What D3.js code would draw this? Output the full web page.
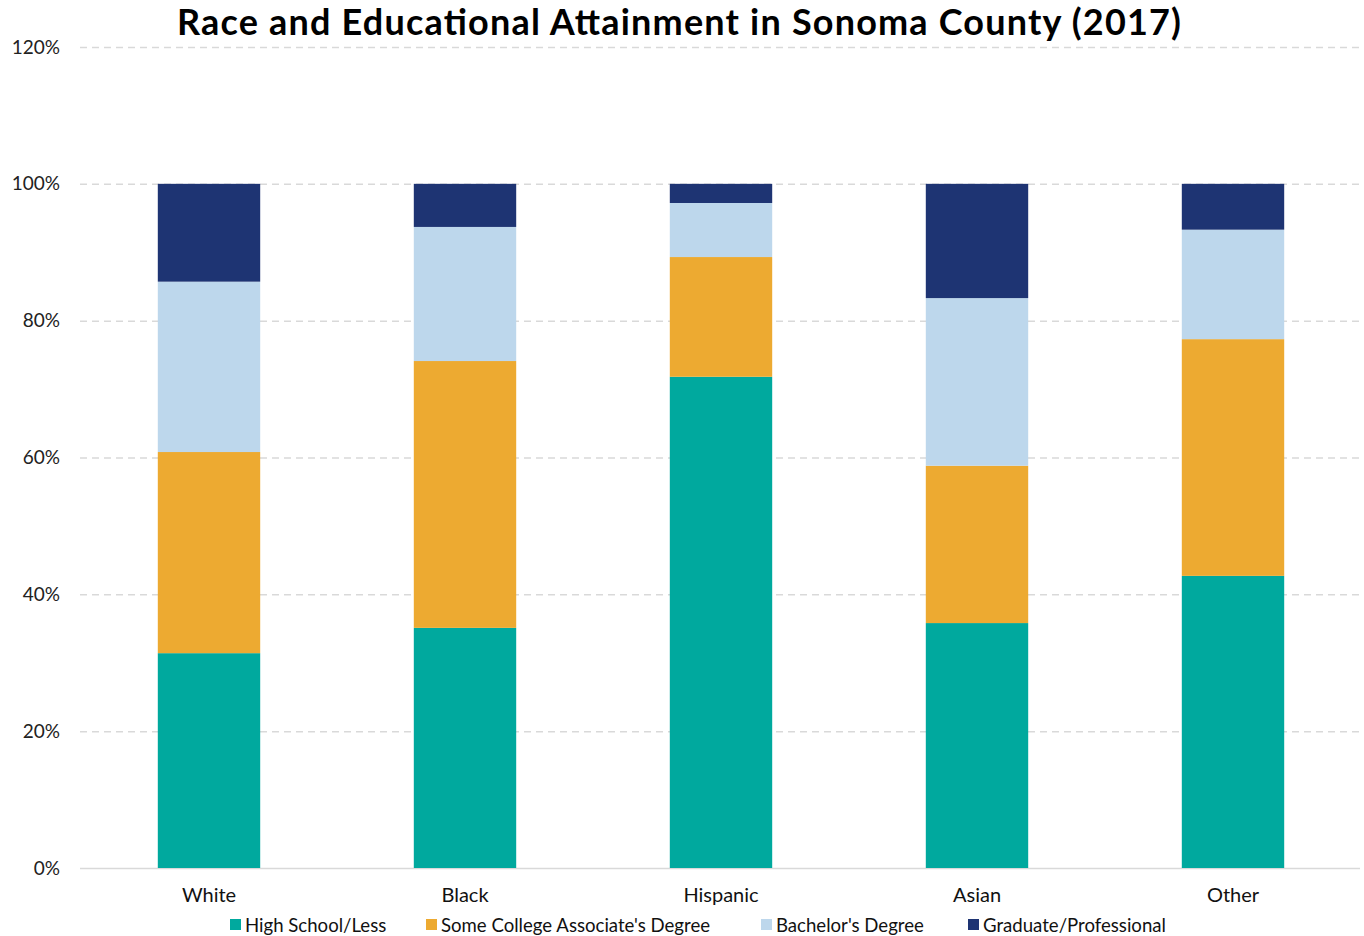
<!DOCTYPE html>
<html>
<head>
<meta charset="utf-8">
<script src="https://cdn.jsdelivr.net/npm/d3@7"></script>
<style>
  html, body { margin: 0; padding: 0; background: #fff; }
  svg { display: block; font-family: Lato, "Open Sans", sans-serif; }
</style>
</head>
<body>
<svg id="chart" width="1364" height="936"></svg>
<script>
// Share of adults by educational attainment, per race group
const races = ["White", "Black", "Hispanic", "Asian", "Other"];
const levels = ["High School/Less", "Some College Associate's Degree", "Bachelor's Degree", "Graduate/Professional"];
const highSchool   = [31.4, 35.1, 71.8, 35.8, 42.7];
const someCollege  = [29.4, 39.0, 17.5, 23.0, 34.6];
const bachelors    = [24.9, 19.6,  7.9, 24.5, 16.0];
const graduate     = [14.3,  6.3,  2.8, 16.7,  6.7];
const yTicks = [0, 20, 40, 60, 80, 100, 120];
const colors = ["#00A99E", "#EDAA31", "#BDD7EC", "#1E3473"];

const rows = races.map((r, i) => ({
  race: r,
  [levels[0]]: highSchool[i],
  [levels[1]]: someCollege[i],
  [levels[2]]: bachelors[i],
  [levels[3]]: graduate[i]
}));

const svg = d3.select("#chart");
const margin = { left: 80, right: 4, top: 47, bottom: 68 };
const W = 1364, H = 936;

const x = d3.scaleBand().domain(races).range([margin.left + 1, W - margin.right + 1]).paddingInner(0.6).paddingOuter(0.3);
const y = d3.scaleLinear().domain([0, 120]).range([H - margin.bottom, margin.top]);
const color = d3.scaleOrdinal().domain(levels).range(colors);

// Title
svg.append("text")
  .attr("x", 679).attr("y", 35)
  .attr("text-anchor", "middle")
  .attr("font-size", 36).attr("font-weight", 700)
  .attr("textLength", 1004).attr("lengthAdjust", "spacing")
  .attr("fill", "#000")
  .text("Race and Educational Attainment in Sonoma County (2017)");

// Gridlines and y labels
const yAxis = svg.append("g")
  .attr("transform", `translate(${margin.left},0)`)
  .call(d3.axisLeft(y).tickValues(yTicks).tickFormat(d => d + "%")
    .tickSize(-(W - margin.left - margin.right)).tickPadding(20));
yAxis.select(".domain").remove();
yAxis.selectAll(".tick line")
  .attr("stroke", "#d9d9d9").attr("stroke-width", 1.5)
  .attr("stroke-dasharray", d => d === 0 ? null : "7,5");
yAxis.selectAll(".tick text")
  .attr("font-size", 19).attr("fill", "#222")
  .attr("font-family", "Lato, sans-serif");

// Stacked bars
const stack = d3.stack().keys(levels)(rows);
svg.append("g").selectAll("g")
  .data(stack).join("g")
  .attr("fill", d => color(d.key))
  .selectAll("rect")
  .data(d => d).join("rect")
  .attr("x", d => x(d.data.race))
  .attr("width", x.bandwidth())
  .attr("y", d => y(d[1]))
  .attr("height", d => y(d[0]) - y(d[1]));

// Category labels
const xAxis = svg.append("g")
  .attr("transform", `translate(0,${y(0)})`)
  .call(d3.axisBottom(x).tickSize(0).tickPadding(20));
xAxis.select(".domain").remove();
xAxis.selectAll(".tick text")
  .attr("font-size", 20).attr("fill", "#111")
  .attr("font-family", "Lato, sans-serif");

// Legend
const legendX = [230, 426, 761, 968];
const legend = svg.append("g").attr("transform", "translate(0,925)");
levels.forEach((lv, i) => {
  const g = legend.append("g").attr("transform", `translate(${legendX[i]},0)`);
  g.append("rect").attr("x", 0).attr("y", -6).attr("width", 11).attr("height", 11).attr("fill", colors[i]);
  g.append("text").attr("x", 15).attr("y", 0).attr("dy", "0.35em")
    .attr("font-size", 18.6).attr("fill", "#111").text(lv);
});
</script>
</body>
</html>
